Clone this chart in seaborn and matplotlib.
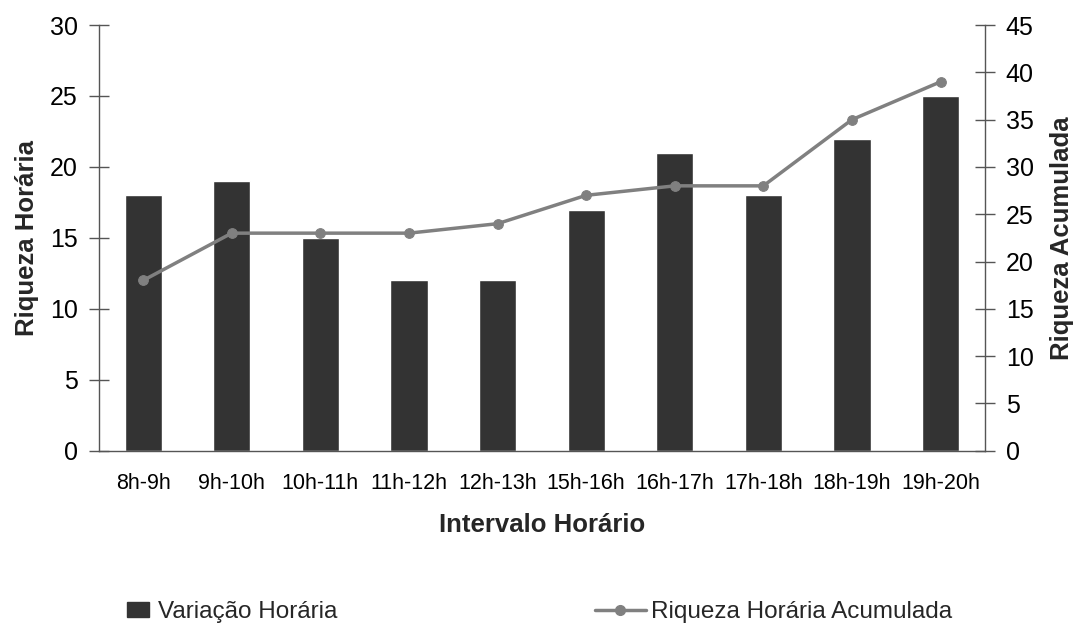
import matplotlib
matplotlib.use("Agg")
import matplotlib.pyplot as plt
import seaborn as sns
import pandas as pd
from matplotlib.lines import Line2D
from matplotlib.patches import Patch

intervals = ["8h-9h", "9h-10h", "10h-11h", "11h-12h", "12h-13h",
             "15h-16h", "16h-17h", "17h-18h", "18h-19h", "19h-20h"]
variacao_horaria = [18, 19, 15, 12, 12, 17, 21, 18, 22, 25]
riqueza_acumulada = [18, 23, 23, 23, 24, 27, 28, 28, 35, 39]

left_ticks = [0, 5, 10, 15, 20, 25, 30]
right_ticks = [0, 5, 10, 15, 20, 25, 30, 35, 40, 45]

sns.set_theme(style="white")
plt.rcParams["font.family"] = ["Liberation Sans", "DejaVu Sans"]

df = pd.DataFrame({"intervalo": intervals,
                   "variacao": variacao_horaria,
                   "acumulada": riqueza_acumulada})

bar_color = "#333333"
line_color = "#808080"
axis_color = "#555555"

fig = plt.figure(figsize=(10.74, 6.26), dpi=100)
ax = fig.add_axes([0.092, 0.28, 0.825, 0.68])

sns.barplot(data=df, x="intervalo", y="variacao", color=bar_color,
            width=0.42, saturation=1, ax=ax)
ax.set_xlim(-0.5, len(intervals) - 0.5)
ax.set_ylim(0, 30)
ax.set_yticks(left_ticks)

ax2 = ax.twinx()
sns.lineplot(x=list(range(len(intervals))), y=riqueza_acumulada, ax=ax2,
             color=line_color, linewidth=2.5, marker="o", markersize=7,
             markeredgecolor=line_color)
ax2.set_ylim(0, 45)
ax2.set_yticks(right_ticks)
ax2.set_xlim(-0.5, len(intervals) - 0.5)

# category boundary ticks on x, labels centred under each bar
ax.set_xticks([i - 0.5 for i in range(len(intervals) + 1)], minor=True)
ax.tick_params(axis="x", which="major", length=0, labelsize=15.5, pad=16,
               labelcolor="black")
ax.tick_params(axis="x", which="minor", direction="inout", length=12,
               color=axis_color, width=1)
ax.tick_params(axis="y", direction="inout", length=14, color=axis_color,
               width=1, labelsize=18, pad=8, left=True, labelcolor="black")
ax2.tick_params(axis="y", direction="inout", length=14, color=axis_color,
                width=1, labelsize=18, pad=8, right=True, labelcolor="black")

for a in (ax, ax2):
    a.spines["top"].set_visible(False)
    for s in ("left", "right", "bottom"):
        a.spines[s].set_color(axis_color)
        a.spines[s].set_linewidth(1)
ax.spines["right"].set_visible(False)
ax2.spines["left"].set_visible(False)
ax2.spines["bottom"].set_visible(False)

label_font = dict(fontsize=18.5, fontweight="bold")
ax.set_xlabel("Intervalo Horário", labelpad=14, **label_font)
ax.set_ylabel("Riqueza Horária", labelpad=8, **label_font)
ax2.set_ylabel("Riqueza Acumulada", labelpad=12, **label_font)

handles_bar = [Patch(facecolor=bar_color, edgecolor=bar_color)]
handles_line = [Line2D([0], [0], color=line_color, linewidth=2.5, marker="o",
                       markersize=7)]
fig.legend(handles_bar, ["Variação Horária"], loc="center left",
           bbox_to_anchor=(0.098, 0.022), frameon=False, fontsize=17.5,
           handlelength=0.9, handleheight=0.6, handletextpad=0.35)
fig.legend(handles_line, ["Riqueza Horária Acumulada"], loc="center left",
           bbox_to_anchor=(0.5335, 0.022), frameon=False, fontsize=17.5,
           handlelength=2.1, handletextpad=0.2)

fig.savefig("out.png", dpi=100)
